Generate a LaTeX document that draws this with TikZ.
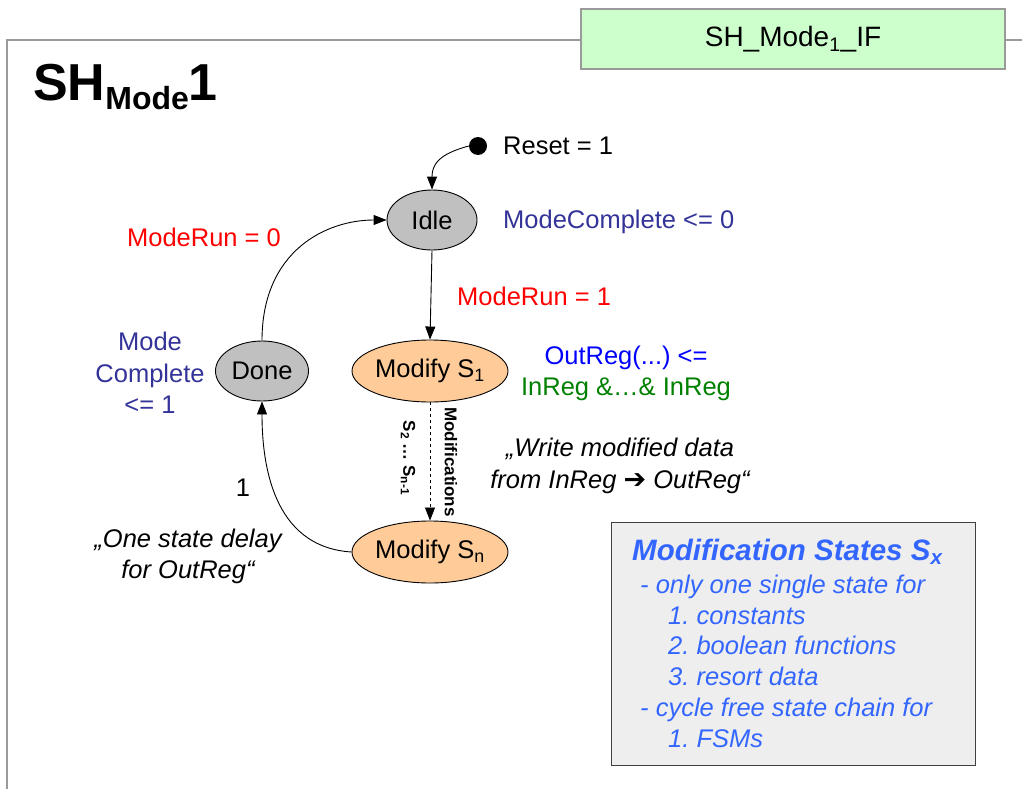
\documentclass[tikz,border=0pt]{standalone}
\usepackage{fontspec}
\setmainfont{Liberation Sans}
\newfontfamily\symfont{DejaVu Sans}
\usetikzlibrary{arrows.meta,shapes.geometric}
\frenchspacing

\definecolor{framegray}{HTML}{9A9A9A}
\definecolor{boxgreen}{HTML}{CCFFCC}
\definecolor{stategray}{HTML}{C0C0C0}
\definecolor{statepeach}{HTML}{FFCC99}
\definecolor{condred}{HTML}{FF0000}
\definecolor{actblue}{HTML}{333399}
\definecolor{outblue}{HTML}{0000FF}
\definecolor{ingreen}{HTML}{008000}
\definecolor{noteblue}{HTML}{3366FF}
\definecolor{notefill}{HTML}{EEEEEE}

\tikzset{
  txt/.style={font=\fontsize{25.5}{31}\selectfont, inner sep=0pt},
  state/.style={ellipse, draw=black, line width=0.9pt, inner sep=0pt,
    font=\fontsize{25.5}{31}\selectfont},
  idlestate/.style={state, fill=stategray, minimum width=90pt, minimum height=60pt},
  modstate/.style={state, fill=statepeach, minimum width=156pt, minimum height=62pt},
  trans/.style={line width=0.9pt, -{Triangle[length=13pt,width=10pt]}},
}

\begin{document}
\begin{tikzpicture}[x=1pt,y=-1pt]
  \useasboundingbox (0,0) rectangle (1022,789);

  % outer frame
  \draw[framegray, line width=2pt] (7,789) -- (7,40) -- (581,40);
  \draw[framegray, line width=2pt] (1005,40) -- (1022,40);

  % interface block
  \node[draw=framegray, line width=2pt, fill=boxgreen, minimum width=424pt,
        minimum height=60pt, inner sep=0pt,
        font=\fontsize{28}{33}\selectfont] (ifbox) at (793,39)
        {SH\_Mode\textsubscript{1}\_IF};

  % title
  \node[anchor=base west, inner sep=0pt, font=\bfseries] (title) at (33,101)
    {\fontsize{52}{60}\selectfont SH\raisebox{-9pt}{\fontsize{32}{36}\selectfont Mode}1};

  % states
  \node[idlestate] (idle) at (432,220) {Idle};
  \node[modstate] (s1) at (430,371) {Modify S\textsubscript{1}};
  \node[modstate] (sn) at (430,552) {Modify S\textsubscript{n}};
  \node[idlestate, minimum width=93pt] (done) at (262,371) {Done};

  % reset
  \node[circle, fill=black, minimum size=18pt, inner sep=0pt] (reset) at (478,146) {};
  \node[txt, anchor=west] (resetlbl) at (503,146) {Reset = 1};

  % transitions
  \draw[trans] (reset.west) .. controls +(-30,8) and +(0,-25) .. (idle.north);
  \draw[trans] (idle.south) -- (s1.north);
  \draw[trans, dashed, line width=0.8pt] (s1.south) -- (sn.north);
  \draw[trans] (sn.west) .. controls +(-80,-5) and +(0,60) .. (done.south);
  \draw[trans] (done.north) .. controls +(0,-90) and +(-60,0) .. (idle.west);

  % labels
  \node[txt, text=actblue, anchor=west] (idleact) at (503,222) {ModeComplete <= 0};
  \node[txt, text=condred] (run0) at (204,237) {ModeRun = 0};
  \node[txt, text=condred, anchor=west] (run1) at (457,296) {ModeRun = 1};
  \node[txt, text=actblue, align=center, font=\fontsize{25.5}{31.5}\selectfont]
    (doneact) at (150,373) {Mode\\Complete\\<= 1};
  \node[txt, align=center] (s1act) at (626,373)
    {\textcolor{outblue}{OutReg(...) <=}\\\textcolor{ingreen}{InReg \&…\& InReg}};
  \node[txt, font=\fontsize{25.5}{32}\itshape, align=center] (writenote) at (620,466)
    {„Write modified data\\from InReg {\symfont\bfseries\upshape\fontsize{27}{26}\selectfont ➔} OutReg“};
  \node[txt] (one) at (243,488) {1};
  \node[txt, font=\fontsize{25.5}{31}\itshape, align=center] (delaynote) at (188,556)
    {„One state delay\\for OutReg“};

  % rotated labels on the modification chain
  \node[inner sep=0pt, rotate=-90, font=\fontsize{17}{20}\bfseries\selectfont]
    (modlbl) at (451,462) {Modifications};
  \node[inner sep=0pt, rotate=-90, font=\fontsize{17}{20}\bfseries\selectfont]
    (chainlbl) at (408,458) {S\textsubscript{2} … S\textsubscript{n-1}};

  % modification states note
  \node[draw=black!75, line width=1pt, fill=notefill, minimum width=364pt,
        minimum height=243pt, inner sep=0pt] (notebox) at (793,643.5) {};
  \node[anchor=north west, inner sep=0pt, text=noteblue, align=left,
        font=\fontsize{25.5}{30.8}\itshape\selectfont] (notetext) at (632,539)
    {{\fontsize{29.5}{34}\bfseries\itshape Modification States S\textsubscript{x}}\\[2pt]
     \hspace{8pt}- only one single state for\\
     \hspace{36pt}1. constants\\
     \hspace{36pt}2. boolean functions\\
     \hspace{36pt}3. resort data\\
     \hspace{8pt}- cycle free state chain for\\
     \hspace{36pt}1. FSMs};
\end{tikzpicture}
\end{document}
